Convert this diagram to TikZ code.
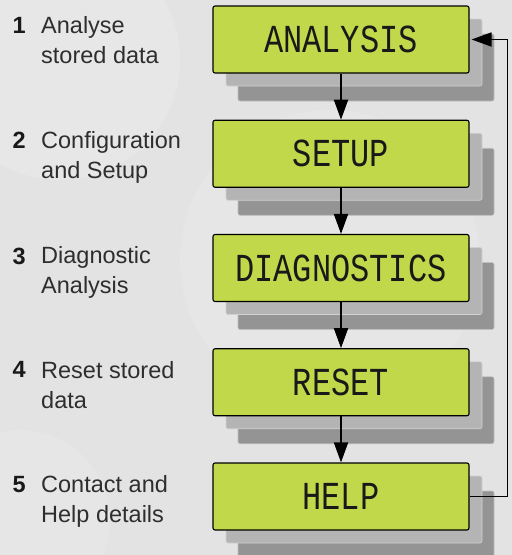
\documentclass[tikz,border=0pt]{standalone}
\usepackage{fontspec}
\setmainfont{Liberation Sans}
\newfontfamily\lcdfont{Liberation Mono}
\usetikzlibrary{arrows.meta}
\definecolor{lcdgreen}{HTML}{C0D84A}
\definecolor{shadowA}{HTML}{B4B4B4}
\definecolor{shadowB}{HTML}{949494}
\definecolor{bggray}{HTML}{E3E3E3}
\definecolor{bglight}{HTML}{E9E9E9}
\definecolor{labelgray}{HTML}{2E2E2E}
\begin{document}
\begin{tikzpicture}[x=1pt,y=-1pt,
  lcd/.style={draw=black, line width=1.1pt, fill=lcdgreen, rounded corners=2pt,
    minimum width=256pt, minimum height=67pt, inner sep=0pt,
    font=\lcdfont\fontsize{32}{32}\selectfont, text=black!90},
  shA/.style={fill=shadowA, draw=black!18, line width=0.6pt, rounded corners=2pt},
  shB/.style={fill=shadowB, draw=black!25, line width=0.6pt, rounded corners=2pt},
  lbl/.style={font=\fontsize{23.5}{30}\selectfont, text=labelgray, align=left, inner sep=0pt},
  num/.style={font=\fontsize{23.5}{30}\selectfont\bfseries, text=black!90, inner sep=0pt},
  arr/.style={line width=1.8pt, -{Triangle[length=20pt,width=14pt]}}
]
\useasboundingbox (0,0) rectangle (512,555);
\fill[bggray] (0,0) rectangle (512,555);
\begin{scope}
\clip (0,0) rectangle (512,555);
\fill[bglight, opacity=0.7] (60,60) circle (120);
\fill[bglight, opacity=0.5] (330,260) circle (150);
\fill[bglight, opacity=0.5] (20,520) circle (90);
\end{scope}
% shadows
\foreach \t in {6,120.25,234.5,348.75,463}{
  \draw[shB] (238,\t+28) rectangle (494,\t+95);
  \draw[shA] (226,\t+13) rectangle (482,\t+80);
}
% boxes
\node[lcd] (b1) at (341,39.5) {\scalebox{1}[1.24]{ANALYSIS}};
\node[lcd] (b2) at (341,153.75) {\scalebox{1}[1.24]{SETUP}};
\node[lcd] (b3) at (341,268) {\scalebox{1}[1.24]{DIAGNOSTICS}};
\node[lcd] (b4) at (341,382.25) {\scalebox{1}[1.24]{RESET}};
\node[lcd] (b5) at (341,496.5) {\scalebox{1}[1.24]{HELP}};
% connectors
\draw[arr] (b1.south) -- (b2.north);
\draw[arr] (b2.south) -- (b3.north);
\draw[arr] (b3.south) -- (b4.north);
\draw[arr] (b4.south) -- (b5.north);
\draw[arr, shorten >=2pt] (b5.east) -- ++(38,0) |- (b1.east);
% labels
\node[num, anchor=base east] (n1) at (26,33) {1};
\node[lbl, anchor=base west] (l1) at (41,63) {Analyse\\stored data};
\node[num, anchor=base east] (n2) at (26,148) {2};
\node[lbl, anchor=base west] (l2) at (41,178) {Configuration\\and Setup};
\node[num, anchor=base east] (n3) at (26,264) {3};
\node[lbl, anchor=base west] (l3) at (41,293) {Diagnostic\\Analysis};
\node[num, anchor=base east] (n4) at (26,377) {4};
\node[lbl, anchor=base west] (l4) at (41,408) {Reset stored\\data};
\node[num, anchor=base east] (n5) at (26,492) {5};
\node[lbl, anchor=base west] (l5) at (41,522) {Contact and\\Help details};
\end{tikzpicture}
\end{document}
